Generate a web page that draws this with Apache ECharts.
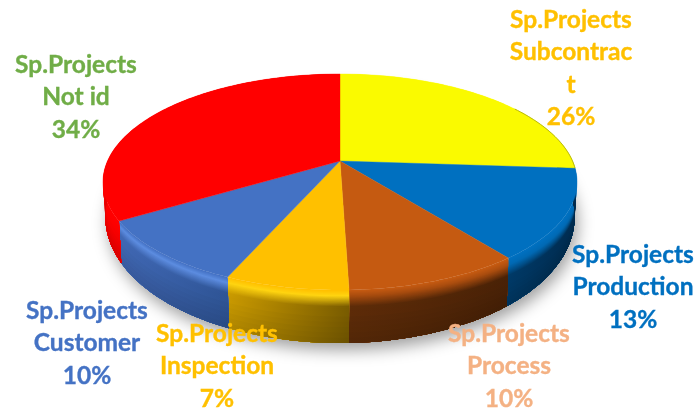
<!DOCTYPE html>
<html>
<head>
<meta charset="utf-8">
<style>html,body{margin:0;padding:0;background:#fff}#c{width:698px;height:410px;filter:blur(0.45px)}</style>
<script src="https://cdn.jsdelivr.net/npm/echarts@6/dist/echarts.min.js"></script>
</head>
<body>
<div id="c"></div>
<script>
const categories = ['Sp.Projects Subcontract','Sp.Projects Production','Sp.Projects Process','Sp.Projects Inspection','Sp.Projects Customer','Sp.Projects Not id'];
const values = [26.1, 13.4, 10.0, 7.0, 9.8, 33.7];
const labelLines = [['Sp.Projects','Subcontrac','t'],['Sp.Projects','Production'],['Sp.Projects','Process'],['Sp.Projects','Inspection'],['Sp.Projects','Customer'],['Sp.Projects','Not id']];

const topColors = ['#FAFA00','#0070C0','#C55A11','#FFC000','#4472C4','#FF0000'];
const rimColors = ['#FAFA00','#0068B2','#A94C0E','#FFD410','#5C8CE0','#FF0000'];
const wallLeft  = ['#8A8A00','#003A68','#5E2C08','#CC9C00','#4169B6','#FF0000'];
const wallRight = ['#707000','#002C50','#4A2206','#7A5C00','#2F5597','#A00000'];
const labelColors = ['#FFC000','#0070C0','#F4B183','#FFC000','#4472C4','#70AD47'];
const labelAnchors = [[571,20],[633,255],[509,334],[217,334],[87,311],[76,65]];
const LINE_H = 32.5;

const cx=340, cy=182, C=232.5, A=108, B=21, K=0.1944;
function pt(theta,t){
  const u=Math.sin(theta), v=Math.cos(theta), den=1+K*v;
  const X=C*u/den, Y=(A*v+B)/den;
  const q=Math.min(1,Math.max(0.3,0.3-0.7*v));
  const g=(u<0||t<=0)?t:Math.pow(t,q);
  const d=(30-23*v)*g;
  return [cx+X*(1-0.01*g), cy-Y+d];
}
const total=values.reduce((a,b)=>a+b,0);
function range(i){
  let s=0; for(let j=0;j<i;j++) s+=values[j];
  return [s/total*Math.PI*2,(s+values[i])/total*Math.PI*2];
}
function arc(a0,a1,t){
  const n=Math.max(2,Math.ceil((a1-a0)/0.02)), out=[];
  for(let i=0;i<=n;i++) out.push(pt(a0+(a1-a0)*i/n,t));
  return out;
}
function hex(c){return [1,3,5].map(i=>parseInt(c.substr(i,2),16));}
function mix(a,b,f){const x=hex(a),y=hex(b);return '#'+x.map((v,i)=>Math.round(v+(y[i]-v)*f).toString(16).padStart(2,'0')).join('');}

const bandStops=[];
for(let s=0;s<0.4;s+=0.02) bandStops.push(s);
bandStops.push(0.5,0.6,0.7,0.8,0.9);
function bandColor(i,t,base){
  if(t<0.1) return mix(topColors[i],rimColors[i],t/0.1);
  if(t<0.3) return mix(rimColors[i],base,(t-0.1)/0.2);
  return mix(base,mix(base,'#000000',0.14),(t-0.3)/0.7);
}
function renderShadow(){
  const pts=arc(0,Math.PI*2,1);
  return {type:'polygon',silent:true,shape:{points:pts},
    style:{fill:'#ffffff',shadowBlur:16,shadowColor:'rgba(0,0,0,0.38)',shadowOffsetX:3,shadowOffsetY:7}};
}
function renderWall(params,api){
  const i=api.value(0), [a0,a1]=range(i), kids=[];
  const xs=arc(a0,a1,0).map(p=>p[0]);
  const minX=Math.min(...xs), maxX=Math.max(...xs);
  bandStops.forEach(t=>{
    const pts=arc(a0,a1,t).concat(arc(a0,a1,1).reverse());
    const fill=new echarts.graphic.LinearGradient(minX,0,maxX,0,[
      {offset:0,color:bandColor(i,t,wallLeft[i])},
      {offset:1,color:bandColor(i,t,wallRight[i])}],true);
    kids.push({type:'polygon',silent:true,shape:{points:pts},style:{fill:fill}});
  });
  return {type:'group',children:kids};
}
function renderTop(params,api){
  const i=api.value(0), [a0,a1]=range(i);
  const apex=[cx,cy-B], kids=[{type:'polygon',silent:true,shape:{points:[apex].concat(arc(a0,a1,0))},
    style:{fill:topColors[i],stroke:topColors[i],lineWidth:0.4}}];
  if(i===0){
    kids.push({type:'polyline',silent:true,shape:{points:arc(a0+(a1-a0)*0.6,a1,0)},
      style:{fill:'none',stroke:'#B8B810',lineWidth:1}});
  }
  return {type:'group',children:kids};
}
function renderLabel(params,api){
  const i=api.value(0), pct=Math.round(values[i]/total*100)+'%';
  const lines=labelLines[i].concat([pct]), [x,y]=labelAnchors[i];
  return {type:'group',children:lines.map((s,n)=>({type:'text',silent:true,
    style:{x:x,y:y+n*LINE_H,text:s,fill:labelColors[i],stroke:labelColors[i],lineWidth:0.35,align:'center',verticalAlign:'middle',
      font:'bold 24.5px Lato, "Open Sans", sans-serif'}}))};
}
const idx=categories.map((c,i)=>[i]);
const chart=echarts.init(document.getElementById('c'),null,{renderer:'canvas'});
chart.setOption({
  animation:false,
  backgroundColor:'#ffffff',
  xAxis:{show:false},yAxis:{show:false},
  series:[
    {type:'custom',coordinateSystem:'none',z:1,data:[[0]],renderItem:renderShadow},
    {type:'custom',coordinateSystem:'none',z:2,data:idx,renderItem:renderWall},
    {type:'custom',coordinateSystem:'none',z:3,data:idx,renderItem:renderTop},
    {type:'custom',coordinateSystem:'none',z:4,data:idx,renderItem:renderLabel}
  ]
});
</script>
</body>
</html>
